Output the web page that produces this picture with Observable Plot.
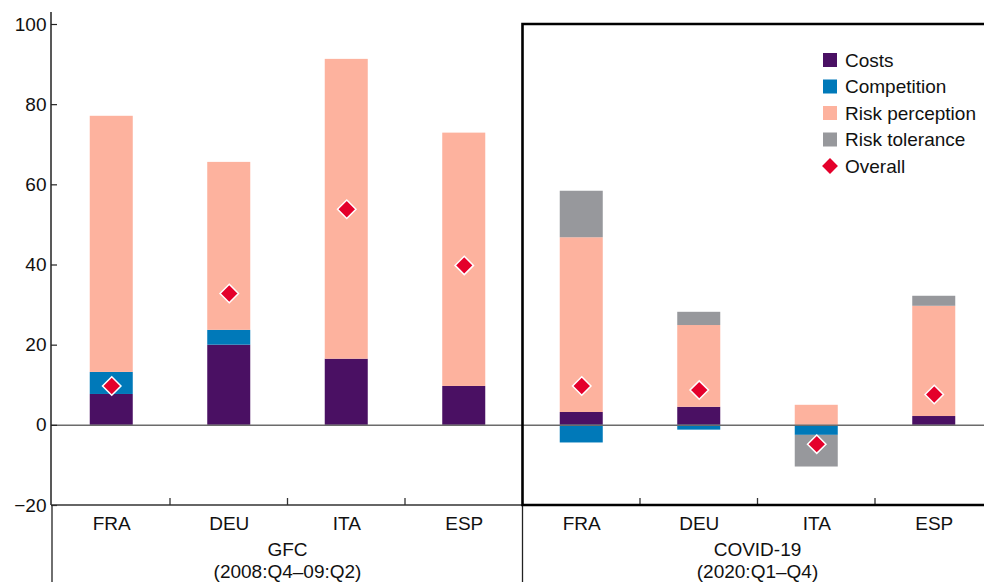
<!DOCTYPE html>
<html><head><meta charset="utf-8">
<script src="https://cdn.jsdelivr.net/npm/d3@7"></script>
<script src="https://cdn.jsdelivr.net/npm/@observablehq/plot@0.6"></script>
<style>
html,body{margin:0;padding:0;background:#fff;overflow:hidden;}
#chart{position:relative;width:984px;height:582px;}
</style></head><body><div id="chart"></div>
<script>
const FONT = '"Liberation Sans Narrow","Arial Narrow","Liberation Sans",Arial,sans-serif';
const FS = 19;
const countries = ["FRA","DEU","ITA","ESP"];
const groups = ["GFC","COVID-19"];
const groupSubLabels = ["(2008:Q4–09:Q2)","(2020:Q1–Q4)"];
const components = ["Costs","Competition","Risk perception","Risk tolerance"];
const componentColors = ["#4a1063","#0079b9","#fdb29e","#97989c"];
const overallLabel = "Overall";
const overallColor = "#e4002b";
// order: GFC FRA, DEU, ITA, ESP, COVID FRA, DEU, ITA, ESP
const costs          = [7.7, 20.0, 16.5, 9.7,   3.2,  4.5,  0.0, 2.2];
const competition    = [5.5,  3.7,  0.0, 0.0,  -4.4, -1.2, -2.5, 0.0];
const riskPerception = [63.9, 41.9, 74.8, 63.2, 43.6, 20.4, 5.0, 27.5];
const riskTolerance  = [0.0,  0.0,  0.0, 0.0,  11.6,  3.3, -7.9, 2.5];
const overall        = [9.8, 32.9, 53.9, 39.9,  9.8,  8.8, -4.7, 7.7];
const yTicks = [-20, 0, 20, 40, 60, 80, 100];

const keys = [];
groups.forEach(g => countries.forEach(c => keys.push(g + "|" + c)));
const series = [costs, competition, riskPerception, riskTolerance];
const rows = [];
keys.forEach((k, i) => components.forEach((comp, j) => rows.push({key: k, component: comp, value: series[j][i]})));
const overallRows = keys.map((k, i) => ({key: k, value: overall[i]}));

const plot = Plot.plot({
  width: 984, height: 582,
  marginTop: 24, marginBottom: 77, marginLeft: 51, marginRight: 0,
  style: {fontFamily: FONT, fontSize: FS + "px", color: "#111", background: "#fff"},
  x: {domain: keys, range: [52.5, 992.5], paddingInner: 0.634, paddingOuter: 0.317, round: false, axis: null},
  y: {domain: [-20, 100], axis: null},
  color: {domain: components, range: componentColors},
  marks: [
    Plot.barY(rows, {x: "key", y: "value", fill: "component"}),
    Plot.ruleY([0], {stroke: "#6b6b6b", strokeWidth: 1.5}),
    Plot.dot(overallRows, {x: "key", y: "value", symbol: "diamond2", r: 8.3, fill: overallColor, stroke: "#fff", strokeWidth: 1.5}),
    Plot.axisY({ticks: yTicks, label: null, tickSize: -6, tickPadding: 11, fontSize: FS, stroke: "#222", strokeWidth: 1.2,
      tickFormat: d => d < 0 ? "−" + (-d) : String(d)}),
    Plot.axisX({label: null, tickSize: 0, tickPadding: 11, fontSize: FS, tickFormat: k => k.split("|")[1]})
  ]
});
document.getElementById("chart").appendChild(plot);

const svg = d3.select(plot);
const xs = plot.scale("x"), ys = plot.scale("y");
const bw = xs.bandwidth, step = xs.step;
const gap = (step - bw) / 2;
const bStart = k => xs.apply(k) - gap;
const yBot = ys.apply(-20), yTop = ys.apply(100);
const W = 984, H = 582;
const g = svg.append("g");
// y axis line
g.append("line").attr("x1", 51).attr("x2", 51).attr("y1", yTop - 12).attr("y2", yBot).attr("stroke", "#222").attr("stroke-width", 1.5);
// x axis line
g.append("line").attr("x1", 51).attr("x2", W).attr("y1", yBot).attr("y2", yBot).attr("stroke", "#333").attr("stroke-width", 1.5);
// category ticks
keys.forEach((k, i) => {
  if (i === 0 || i === 4) return;
  const x = bStart(k);
  g.append("line").attr("x1", x).attr("x2", x).attr("y1", yBot).attr("y2", yBot - 7).attr("stroke", "#333").attr("stroke-width", 1.3);
});
// separators below axis
[bStart(keys[0]) - 0.5, bStart(keys[4])].forEach(x => {
  g.append("line").attr("x1", x).attr("x2", x).attr("y1", yBot).attr("y2", H).attr("stroke", "#222").attr("stroke-width", 1.3);
});
// COVID box
const bx = bStart(keys[4]);
g.append("path").attr("d", `M${W + 10},${yTop}H${bx}V${yBot}H${W + 10}`).attr("fill", "none").attr("stroke", "#000").attr("stroke-width", 2.6);
// group labels
groups.forEach((gr, gi) => {
  const cx = (xs.apply(keys[gi * 4 + 1]) + xs.apply(keys[gi * 4 + 2]) + bw) / 2;
  const t = g.append("text").attr("x", cx).attr("text-anchor", "middle").attr("font-family", FONT).attr("font-size", FS).attr("fill", "#111");
  t.append("tspan").attr("x", cx).attr("y", yBot + 51).text(gr);
  t.append("tspan").attr("x", cx).attr("y", yBot + 73).text(groupSubLabels[gi]);
});
// legend
const lg = svg.append("g").attr("text-anchor", "start");
const lx = 823, ly0 = 60, ldy = 26.5;
components.forEach((c, i) => {
  const y = ly0 + i * ldy;
  lg.append("rect").attr("x", lx).attr("y", y - 7).attr("width", 14).attr("height", 14).attr("fill", componentColors[i]);
  lg.append("text").attr("x", lx + 22).attr("y", y).attr("dy", "0.35em").attr("text-anchor", "start").attr("font-family", FONT).attr("font-size", FS).attr("fill", "#111").text(c);
});
{
  const y = ly0 + 4 * ldy;
  lg.append("path").attr("d", d3.symbol(d3.symbolDiamond2, 160)()).attr("transform", `translate(${lx + 7},${y})`).attr("fill", overallColor);
  lg.append("text").attr("x", lx + 22).attr("y", y).attr("dy", "0.35em").attr("text-anchor", "start").attr("font-family", FONT).attr("font-size", FS).attr("fill", "#111").text(overallLabel);
}
</script></body></html>
